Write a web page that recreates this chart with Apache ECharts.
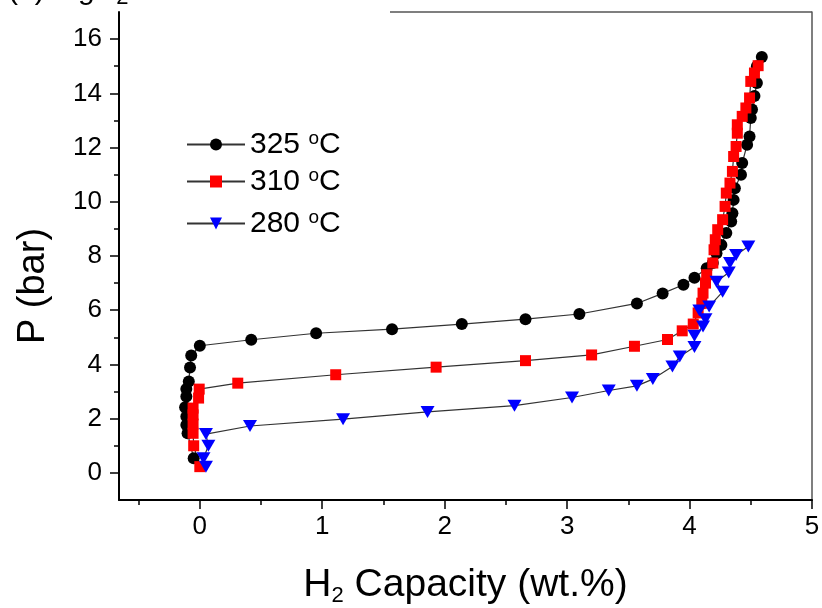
<!DOCTYPE html>
<html>
<head>
<meta charset="utf-8">
<script src="https://cdn.jsdelivr.net/npm/echarts@6/dist/echarts.min.js"></script>
<style>
  html, body { margin: 0; padding: 0; background: #fff; }
  #main { width: 822px; height: 608px; }
</style>
</head>
<body>
<div id="main"></div>
<script>
// H2 capacity (wt.%) vs pressure (bar)
var data325 = [
  [-0.05, 0.54], [-0.10, 1.46], [-0.11, 1.77], [-0.11, 2.08], [-0.12, 2.42],
  [-0.11, 2.82], [-0.11, 3.09], [-0.09, 3.37], [-0.08, 3.89], [-0.07, 4.33],
  [0.00, 4.69], [0.42, 4.91], [0.95, 5.15], [1.57, 5.30], [2.14, 5.49],
  [2.66, 5.67], [3.10, 5.86], [3.57, 6.25], [3.78, 6.62], [3.95, 6.94],
  [4.04, 7.20], [4.14, 7.55], [4.19, 7.74], [4.22, 8.10], [4.26, 8.41],
  [4.30, 8.85], [4.34, 9.27], [4.35, 9.58], [4.36, 10.07], [4.37, 10.50],
  [4.42, 11.00], [4.43, 11.43], [4.47, 12.10], [4.49, 12.41], [4.50, 13.09],
  [4.51, 13.40], [4.53, 13.90], [4.55, 14.38], [4.55, 15.00], [4.59, 15.34]
]
var data310 = [
  [0.00, 0.23], [-0.05, 1.00], [-0.055, 1.46], [-0.055, 1.80], [-0.055, 2.14],
  [-0.055, 2.39], [-0.01, 2.76], [-0.005, 3.09], [0.31, 3.31], [1.11, 3.62],
  [1.93, 3.90], [2.66, 4.14], [3.20, 4.35], [3.55, 4.67], [3.82, 4.92],
  [3.94, 5.24], [4.03, 5.49], [4.07, 5.90], [4.10, 6.26], [4.11, 6.63],
  [4.13, 7.00], [4.14, 7.31], [4.19, 7.74], [4.20, 8.23], [4.21, 8.60],
  [4.23, 8.97], [4.27, 9.34], [4.29, 9.83], [4.30, 10.32], [4.33, 10.69],
  [4.35, 11.12], [4.36, 11.67], [4.38, 12.04], [4.39, 12.53], [4.39, 12.84],
  [4.43, 13.15], [4.46, 13.46], [4.49, 13.83], [4.50, 14.44], [4.53, 14.75],
  [4.56, 15.02]
]
var data280 = [
  [0.05, 0.23], [0.03, 0.54], [0.07, 1.00], [0.05, 1.43], [0.41, 1.73],
  [1.17, 1.98], [1.86, 2.25], [2.57, 2.48], [3.04, 2.78], [3.34, 3.04],
  [3.57, 3.21], [3.70, 3.46], [3.86, 3.92], [3.92, 4.29], [4.04, 4.64],
  [4.04, 5.06], [4.11, 5.40], [4.13, 5.67], [4.08, 5.99], [4.16, 6.14],
  [4.27, 6.68], [4.22, 7.05], [4.32, 7.39], [4.33, 7.74], [4.38, 8.04],
  [4.48, 8.35]
]
var seriesNames = ['325 oC', '310 oC', '280 oC']

var xMajorTicks = [0, 1, 2, 3, 4, 5]
var xMinorTicks = [-0.5, 0.5, 1.5, 2.5, 3.5, 4.5]
var yMajorTicks = [0, 2, 4, 6, 8, 10, 12, 14, 16]
var yMinorTicks = [1, 3, 5, 7, 9, 11, 13, 15]

var FONT = "'Liberation Sans', Arial, sans-serif"
var xMin = -0.66, xMax = 5, yMin = -1, yMax = 17

var myChart = echarts.init(document.getElementById('main'), null, { renderer: 'canvas' })

function legendFor (name, top) {
  return {
    data: [name],
    left: 181,
    top: top,
    orient: 'vertical',
    itemWidth: 58,
    itemHeight: 15,
    itemGap: 8,
    formatter: function (n) {
      var p = n.split(' ')
      return '{n|' + p[0] + ' }{s|o}{n|C}'
    },
    textStyle: {
      rich: {
        n: { fontFamily: FONT, fontSize: 30, color: '#000' },
        s: { fontFamily: FONT, fontSize: 19, color: '#000', verticalAlign: 'top', padding: [0, 0, 12, 0] }
      }
    }
  }
}

var option = {
  animation: false,
  backgroundColor: '#fff',
  grid: { left: 119, right: 10, top: 12, bottom: 108, show: false, containLabel: false, outerBoundsMode: 'none' },
  legend: [
    legendFor(seriesNames[0], 124),
    legendFor(seriesNames[1], 161),
    legendFor(seriesNames[2], 203)
  ],
  xAxis: [{
    type: 'value', min: xMin, max: xMax,
    name: '{a|H}{s|2}{a| Capacity (wt.%)}',
    nameLocation: 'middle', nameGap: 63,
    nameTextStyle: {
      rich: {
        a: { fontFamily: FONT, fontSize: 39, color: '#000' },
        s: { fontFamily: FONT, fontSize: 22, color: '#000', padding: [22, 0, 0, 0] }
      }
    },
    splitLine: { show: false },
    axisLine: { show: true, onZero: false, lineStyle: { color: '#000', width: 2 } },
    axisTick: { show: true, inside: false, length: 9, customValues: xMajorTicks, lineStyle: { color: '#000', width: 1.5 } },
    axisLabel: { customValues: xMajorTicks, margin: 14, fontFamily: FONT, fontSize: 26, color: '#000' }
  }, {
    type: 'value', min: xMin, max: xMax, position: 'bottom',
    splitLine: { show: false },
    axisLine: { show: false, onZero: false },
    axisTick: { show: true, inside: false, length: 5, customValues: xMinorTicks, lineStyle: { color: '#000', width: 1.5 } },
    axisLabel: { show: false }
  }],
  yAxis: [{
    type: 'value', min: yMin, max: yMax,
    name: 'P (bar)',
    nameLocation: 'middle', nameGap: 66,
    nameTextStyle: { fontFamily: FONT, fontSize: 38, color: '#000', padding: [0, 60, 0, 0] },
    splitLine: { show: false },
    axisLine: { show: true, onZero: false, lineStyle: { color: '#000', width: 2 } },
    axisTick: { show: true, inside: false, length: 9, customValues: yMajorTicks, lineStyle: { color: '#000', width: 1.5 } },
    axisLabel: { customValues: yMajorTicks, margin: 17, fontFamily: FONT, fontSize: 26, color: '#000' }
  }, {
    type: 'value', min: yMin, max: yMax, position: 'left',
    splitLine: { show: false },
    axisLine: { show: false, onZero: false },
    axisTick: { show: true, inside: false, length: 5, customValues: yMinorTicks, lineStyle: { color: '#000', width: 1.5 } },
    axisLabel: { show: false }
  }, {
    type: 'value', min: yMin, max: yMax, position: 'right',
    splitLine: { show: false },
    axisLine: { show: true, onZero: false, lineStyle: { color: '#555', width: 1.5 } },
    axisTick: { show: false },
    axisLabel: { show: false }
  }],
  graphic: [{
    // top frame, the left part is hidden behind the (cut off) panel title
    type: 'line',
    shape: { x1: 390, y1: 12, x2: 812, y2: 12 },
    style: { stroke: '#555', lineWidth: 1.5 }
  }, {
    type: 'text',
    left: 8, top: -24,
    style: {
      text: '{a|(a) MgH}{s|2}',
      rich: {
        a: { fontFamily: FONT, fontSize: 30, fill: '#000' },
        s: { fontFamily: FONT, fontSize: 22, fill: '#000', padding: [14, 0, 0, 0] }
      }
    }
  }],
  series: [{
    name: seriesNames[0],
    type: 'line',
    data: data325,
    symbol: 'circle',
    symbolSize: 12,
    lineStyle: { color: '#333', width: 1.2 },
    itemStyle: { color: '#000' }
  }, {
    name: seriesNames[1],
    type: 'line',
    data: data310,
    symbol: 'rect',
    symbolSize: 11,
    lineStyle: { color: '#333', width: 1.2 },
    itemStyle: { color: '#ff0000' }
  }, {
    name: seriesNames[2],
    type: 'line',
    data: data280,
    symbol: 'path://M0,0 L14,0 L7,12 Z',
    symbolSize: [14, 12],
    lineStyle: { color: '#333', width: 1.2 },
    itemStyle: { color: '#0000ff' }
  }]
}

myChart.setOption(option)
</script>
</body>
</html>
